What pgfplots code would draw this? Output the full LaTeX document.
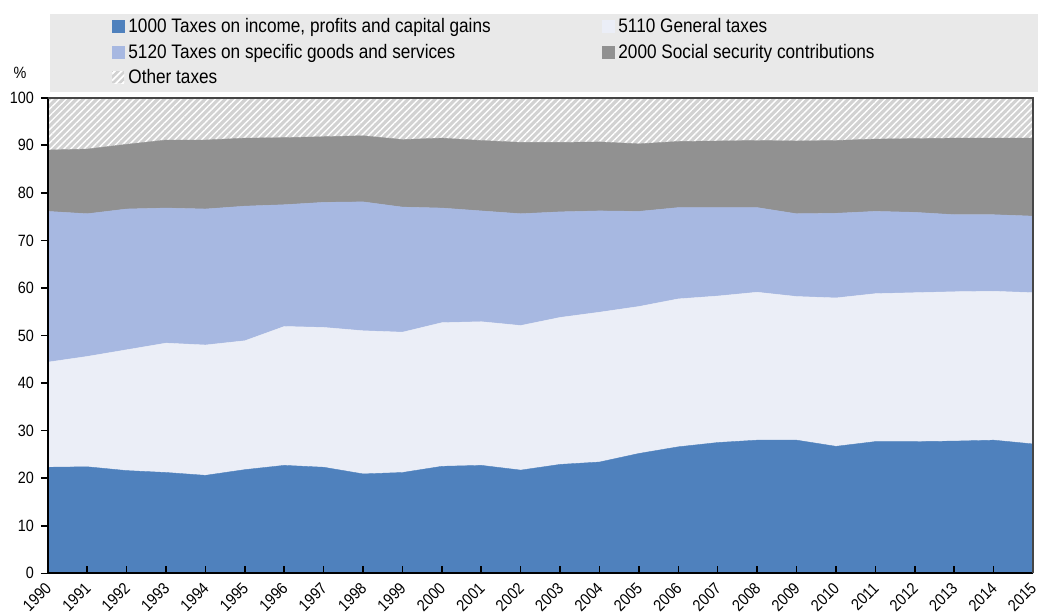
\documentclass[border=0pt]{standalone}
\usepackage{fontspec}
\setmainfont{Liberation Sans}[FakeStretch=0.88]
\usepackage{pgfplots}
\pgfplotsset{compat=1.18}
\usepackage{pgfplotstable}
\usetikzlibrary{patterns.meta}

\definecolor{incc}{HTML}{4F81BD}
\definecolor{genc}{HTML}{EBEEF7}
\definecolor{spec}{HTML}{A7B8E1}
\definecolor{sscc}{HTML}{919191}
\definecolor{othc}{HTML}{D2D2D2}
\definecolor{legbg}{HTML}{E9E9E9}

% shares of total tax revenue, %
\pgfplotstableread{
year inc  gen  spe  ssc  oth
1990 22.3 22.1 31.7 12.9 11.0
1991 22.4 23.2 30.0 13.6 10.8
1992 21.6 25.4 29.6 13.6  9.8
1993 21.2 27.2 28.4 14.3  8.9
1994 20.6 27.4 28.6 14.5  8.9
1995 21.8 27.1 28.3 14.3  8.5
1996 22.7 29.2 25.6 14.1  8.4
1997 22.3 29.4 26.3 13.8  8.2
1998 20.9 30.1 27.1 13.9  8.0
1999 21.2 29.5 26.3 14.2  8.8
2000 22.5 30.2 24.1 14.7  8.5
2001 22.7 30.2 23.3 14.8  9.0
2002 21.7 30.4 23.5 15.0  9.4
2003 22.9 30.9 22.2 14.6  9.4
2004 23.4 31.5 21.3 14.5  9.3
2005 25.2 30.9 20.0 14.2  9.7
2006 26.6 31.1 19.2 13.9  9.2
2007 27.5 30.8 18.6 14.0  9.1
2008 28.0 31.1 17.8 14.1  9.0
2009 28.0 30.2 17.4 15.3  9.1
2010 26.7 31.2 17.8 15.3  9.0
2011 27.7 31.1 17.3 15.2  8.7
2012 27.7 31.3 16.9 15.5  8.6
2013 27.8 31.4 16.2 16.1  8.5
2014 28.0 31.3 16.1 16.1  8.5
2015 27.2 31.8 16.1 16.4  8.5
}\taxdata

\tikzset{hatchst/.style={pattern={Lines[angle=45,distance=2.4pt,line width=0.7pt]}, pattern color=white}}

\begin{document}
\begin{tikzpicture}
\useasboundingbox (-24pt,-19.5pt) rectangle (496.5pt,287.5pt);
\fill[legbg] (1pt,241.5pt) rectangle (496.5pt,280.5pt);
\begin{axis}[
  scale only axis, width=494pt, height=238.5pt,
  xmin=1990, xmax=2015, ymin=0, ymax=100,
  stack plots=y,
  axis on top,
  axis x line*=bottom, axis y line*=left,
  axis line style={line width=1pt, black},
  xtick={1990,...,2015}, ytick={0,10,...,100},
  xtick align=inside, ytick align=outside,
  major tick length=3.5pt,
  tick style={black, line width=0.8pt},
  xticklabel style={rotate=45, anchor=east, xshift=-2.5pt, yshift=-4.5pt,
    inner sep=1.5pt,
    font=\fontsize{8.2}{9}\selectfont, /pgf/number format/1000 sep={}},
  yticklabel style={font=\fontsize{8.2}{9}\selectfont},
  /pgf/number format/assume math mode=true,
  legend columns=2,
  legend cell align=left,
  legend style={at={(0,1)}, anchor=south west, xshift=32pt, yshift=3.6pt,
    draw=none, fill=none, inner sep=0pt, row sep=0pt,
    font=\fontsize{9.8}{10}\selectfont,
    nodes={inner sep=0pt, text height=9.6pt, text depth=3.15pt},
    /tikz/every odd column/.append style={column sep=2pt}},
]
\addplot[fill=incc, draw=incc, line width=0.2pt,
  legend image code/.code={\fill[incc] (0pt,-3pt) rectangle (6pt,3pt);}]
  table[x=year, y=inc]{\taxdata} \closedcycle;
\addlegendentry{\makebox[237.5pt][l]{1000 Taxes on income, profits and capital gains}}
\addplot[fill=genc, draw=genc, line width=0.2pt,
  legend image code/.code={\fill[genc] (0pt,-3pt) rectangle (6pt,3pt);}]
  table[x=year, y=gen]{\taxdata} \closedcycle;
\addlegendentry{5110 General taxes}
\addplot[fill=spec, draw=spec, line width=0.2pt,
  legend image code/.code={\fill[spec] (0pt,-3pt) rectangle (6pt,3pt);}]
  table[x=year, y=spe]{\taxdata} \closedcycle;
\addlegendentry{\makebox[237.5pt][l]{5120 Taxes on specific goods and services}}
\addplot[fill=sscc, draw=sscc, line width=0.2pt,
  legend image code/.code={\fill[sscc] (0pt,-3pt) rectangle (6pt,3pt);}]
  table[x=year, y=ssc]{\taxdata} \closedcycle;
\addlegendentry{2000 Social security contributions}
\addplot[fill=othc, draw=none, postaction={hatchst},
  legend image code/.code={\fill[othc] (0pt,-3pt) rectangle (6pt,3pt);
    \fill[hatchst] (0pt,-3pt) rectangle (6pt,3pt);}]
  table[x=year, y=oth]{\taxdata} \closedcycle;
\addlegendentry{Other taxes}
\end{axis}
\draw[gray!55!black, line width=1pt] (0pt,238.5pt) -- (494pt,238.5pt) -- (494pt,0pt);
\node[font=\fontsize{8.2}{9}\selectfont] at (-14pt,251pt) {\%};
\end{tikzpicture}
\end{document}
